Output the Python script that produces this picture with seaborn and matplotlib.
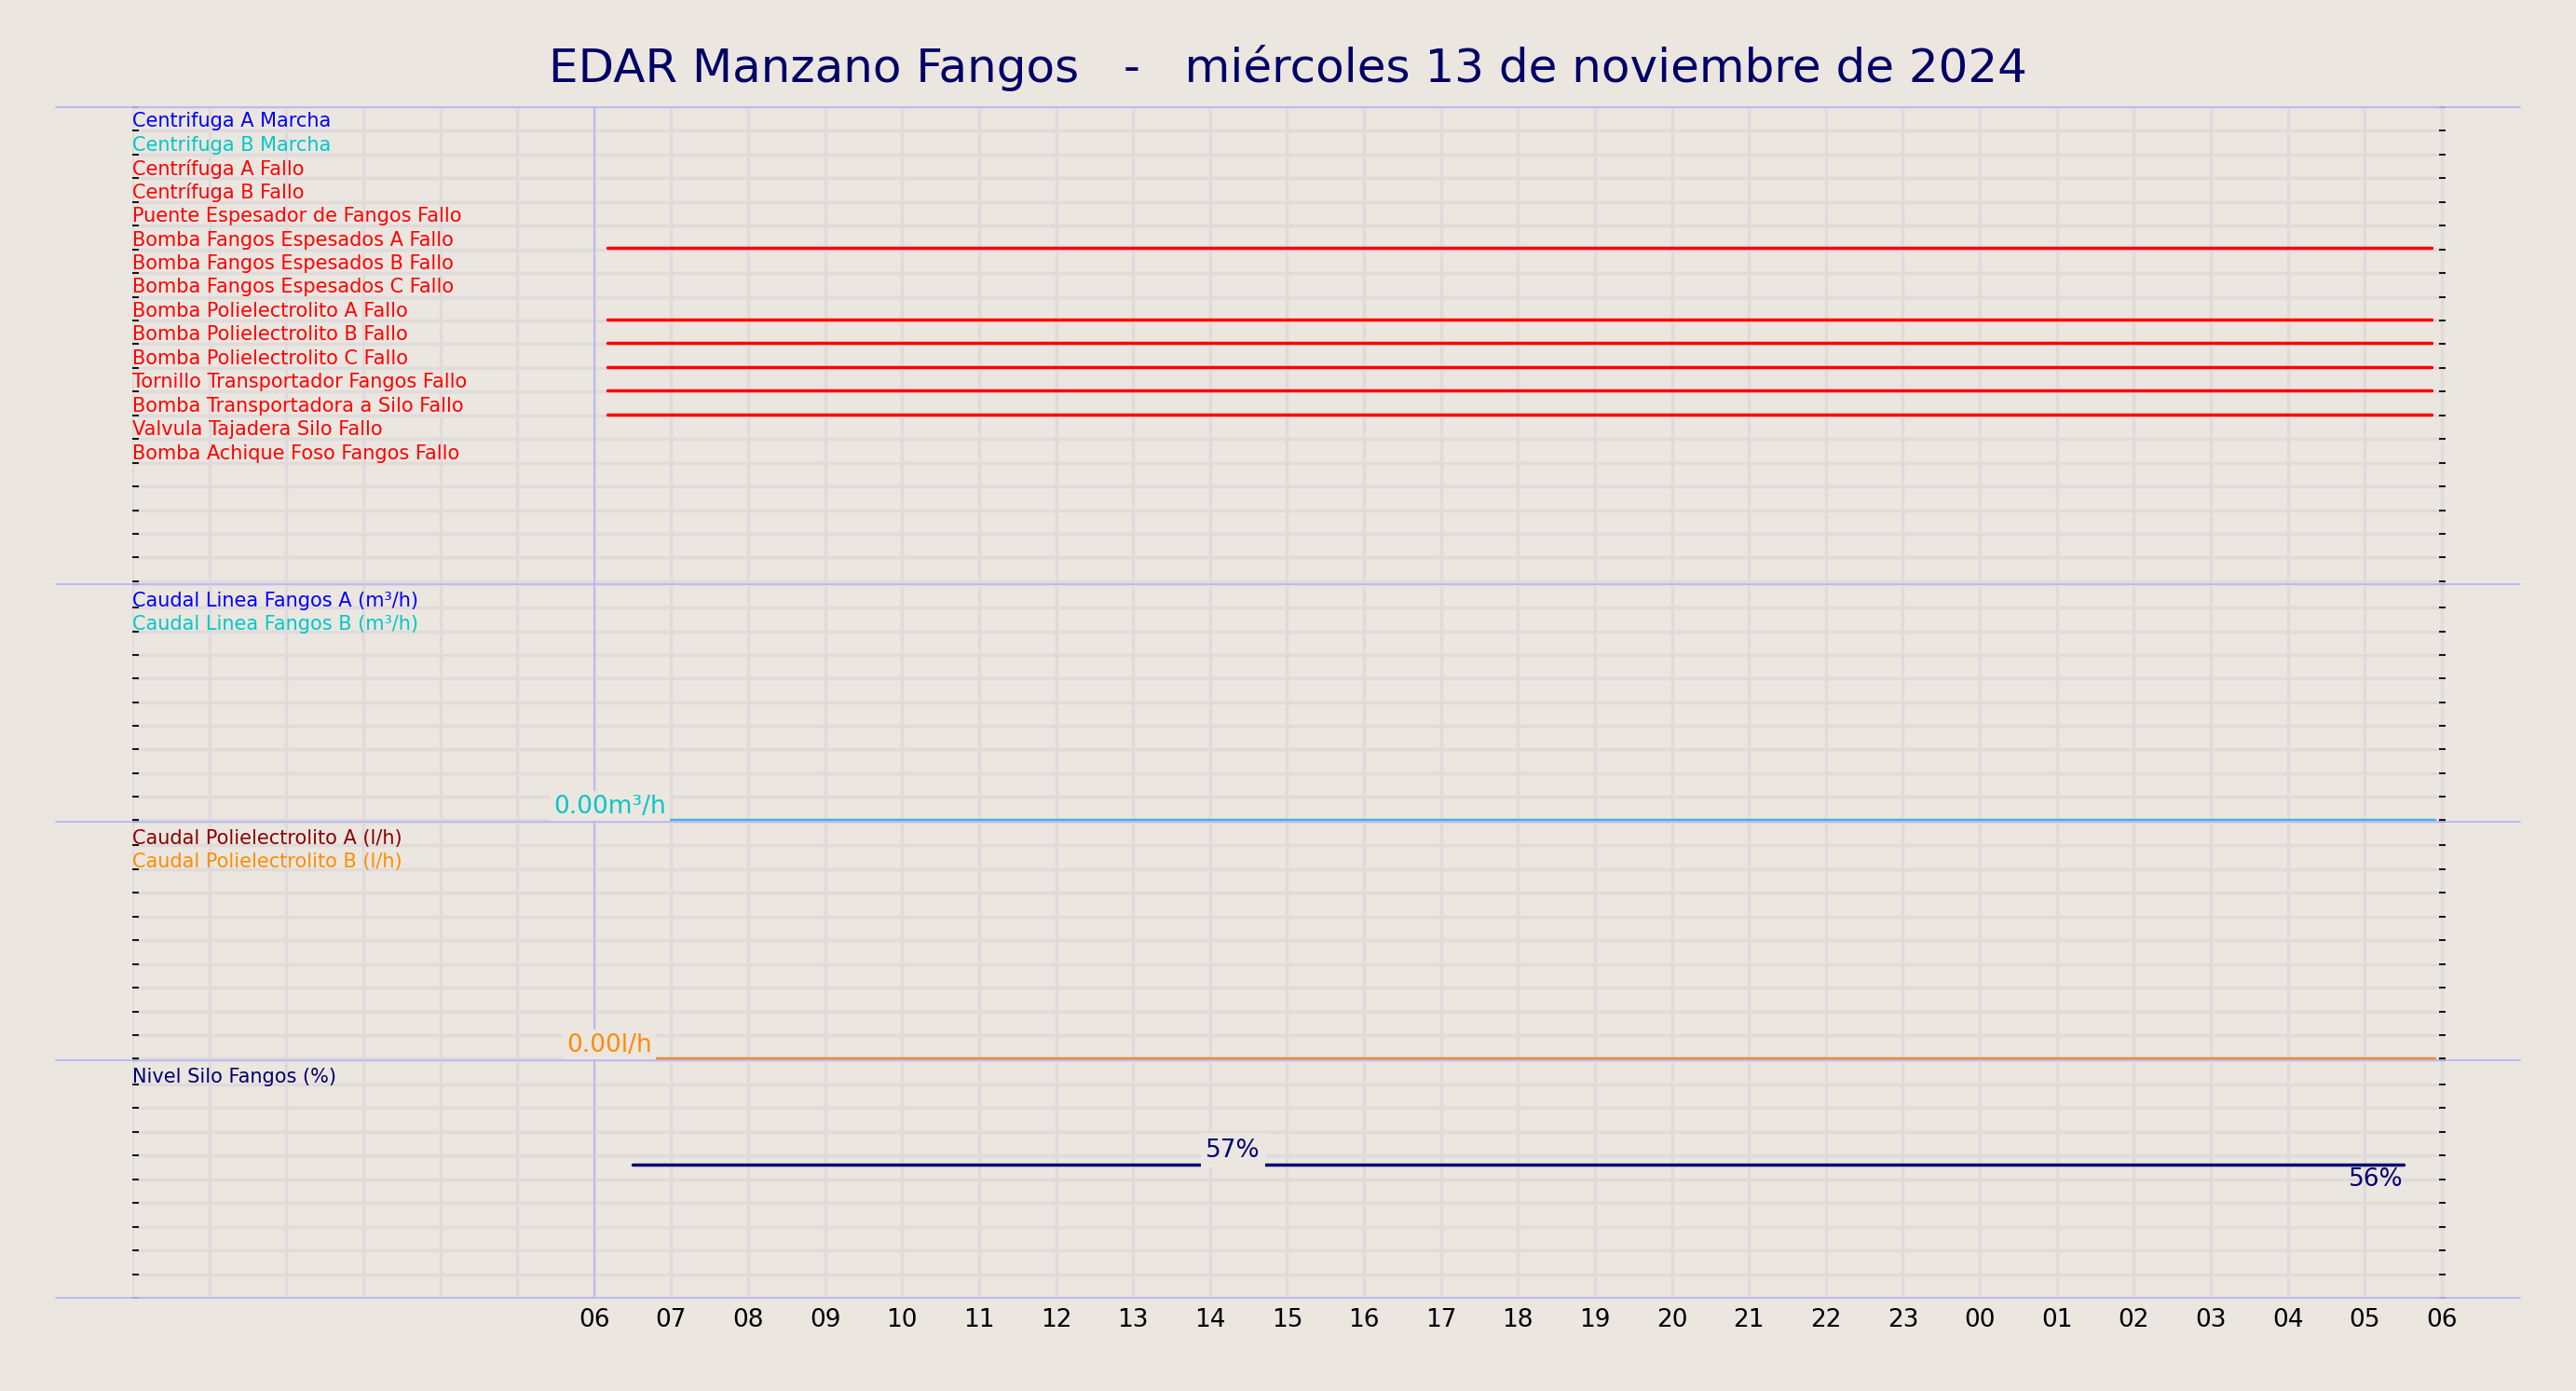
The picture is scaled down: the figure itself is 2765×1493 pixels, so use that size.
import matplotlib
matplotlib.use("Agg")
import matplotlib.pyplot as plt
from matplotlib.lines import Line2D
import seaborn as sns
import pandas as pd

sns.set_theme(style="whitegrid")
plt.rcParams['font.family'] = ['DejaVu Sans']

BG = "#ebe6e0"
GRID = "#e0dbda"
SEP = "#b8b8f4"

# time in hours since 00:00 of 13/11/2024
hour_ticks = list(range(6, 31))
hour_labels = [f"{h % 24:02d}" for h in hour_ticks]

# panel 1: digital signals (row index from top)
sig_names = ["Centrifuga A Marcha", "Centrifuga B Marcha", "Centrífuga A Fallo",
             "Centrífuga B Fallo", "Puente Espesador de Fangos Fallo",
             "Bomba Fangos Espesados A Fallo", "Bomba Fangos Espesados B Fallo",
             "Bomba Fangos Espesados C Fallo", "Bomba Polielectrolito A Fallo",
             "Bomba Polielectrolito B Fallo", "Bomba Polielectrolito C Fallo",
             "Tornillo Transportador Fangos Fallo", "Bomba Transportadora a Silo Fallo",
             "Valvula Tajadera Silo Fallo", "Bomba Achique Foso Fangos Fallo"]
sig_colors = ["blue", "#00c8c8"] + ["red"] * 13
sig_active = [5, 8, 9, 10, 11, 12]
sig_start, sig_end = 6.17, 29.87

# panel 2 / 3: flows
flow_start, flow_end = 6.0, 29.9
flow_a_vals = [0.0, 0.0]
poli_vals = [0.0, 0.0]

# panel 4: silo level
silo_t = [6.5, 14.3, 29.5]
silo_vals = [56, 56, 56]
silo_mid_label, silo_end_label = "57%", "56%"

fig = plt.figure(figsize=(27.65, 14.93), dpi=100, facecolor=BG)
left, width = 142 / 2765, 2483 / 2765
bounds_px = [(115, 627), (627, 882), (882, 1138), (1138, 1393)]
axes = []
for top, bot in bounds_px:
    ax = fig.add_axes([left, 1 - bot / 1493, width, (bot - top) / 1493], facecolor=BG)
    axes.append(ax)

LBL = 15
VAL = 19

for ax, n in zip(axes, [20, 10, 10, 10]):
    ax.set_xlim(0, 30.05)
    ax.set_xticks(range(0, 31))
    ax.set_xticklabels([])
    ax.set_ylim(-0.06 * n / 10, n)
    ax.set_yticks(range(0, n + 1))
    ax.set_yticklabels([])
    ax.grid(True, color=GRID, linewidth=2.5)
    for s in ax.spines.values():
        s.set_visible(False)
    ax.tick_params(axis="y", left=True, right=True, direction="in", length=5,
                   width=1.3, color="black")
    ax.tick_params(axis="x", bottom=False, length=0)
    ax.axvline(6, color=SEP, linewidth=1.3)

# panel 1
ax = axes[0]
rows = []
for i in sig_active:
    y = 20 - i - 0.95
    rows += [{"t": sig_start, "y": y, "s": sig_names[i]},
             {"t": sig_end, "y": y, "s": sig_names[i]}]
df = pd.DataFrame(rows)
sns.lineplot(data=df, x="t", y="y", hue="s", palette={sig_names[i]: "red" for i in sig_active},
             legend=False, linewidth=2.5, ax=ax)
for i, (name, c) in enumerate(zip(sig_names, sig_colors)):
    ax.text(0.0, 20 - i - 0.6, name, color=c, fontsize=LBL, va="center", ha="left")
ax.set_xlabel(""); ax.set_ylabel("")


def flow_panel(ax, labels, colors, vals, lcolor, tcolor, unit):
    d = pd.DataFrame({"t": [flow_start, flow_end], "v": vals})
    sns.lineplot(data=d, x="t", y="v", color=lcolor, linewidth=2.5, ax=ax)
    for i, (lab, c) in enumerate(zip(labels, colors)):
        ax.text(0.0, 10 - i - 0.7, lab, color=c, fontsize=LBL, va="center", ha="left")
    ax.text(flow_start + 0.2, vals[0] + 0.05, f"{vals[0]:.2f}{unit}", color=tcolor,
            fontsize=VAL, ha="center", va="bottom",
            bbox=dict(facecolor=BG, edgecolor="none", pad=3))
    ax.text(flow_end, vals[-1] - 0.1, f"{vals[-1]:.2f}{unit}", color=tcolor,
            fontsize=VAL, ha="right", va="top")
    ax.set_xlabel(""); ax.set_ylabel("")


flow_panel(axes[1], ["Caudal Linea Fangos A (m³/h)", "Caudal Linea Fangos B (m³/h)"],
           ["blue", "#00c8c8"], flow_a_vals, "#3fb8e0", "#00c8c8", "m³/h")
flow_panel(axes[2], ["Caudal Polielectrolito A (l/h)", "Caudal Polielectrolito B (l/h)"],
           ["#8b0000", "#ff8c00"], poli_vals, "#f08830", "#ff8c00", "l/h")

# panel 4
ax = axes[3]
ax.set_ylim(0, 100)
ax.set_yticks(range(0, 101, 10))
ax.set_yticklabels([])
d = pd.DataFrame({"t": silo_t, "v": silo_vals})
sns.lineplot(data=d, x="t", y="v", color="#000070", linewidth=2.5, ax=ax)
ax.text(0.0, 93, "Nivel Silo Fangos (%)", color="#000070", fontsize=LBL, va="center")
ax.text(silo_t[1], silo_vals[1] + 1, silo_mid_label, color="#000070", fontsize=VAL,
        ha="center", va="bottom", bbox=dict(facecolor=BG, edgecolor="none", pad=4))
ax.text(silo_t[-1], silo_vals[-1] - 1, silo_end_label, color="#000070", fontsize=VAL,
        ha="right", va="top")
ax.set_xlabel(""); ax.set_ylabel("")
ax.set_xticks(hour_ticks)
ax.set_xticklabels(hour_labels)
ax.set_xticks(range(0, 31), minor=True)
ax.grid(True, which="minor", axis="x", color=GRID, linewidth=2.5)
ax.tick_params(axis="x", labelsize=19, pad=8, labelcolor="black")

# separator lines
for top, _ in bounds_px:
    yy = 1 - top / 1493
    fig.add_artist(Line2D([60 / 2765, 2705 / 2765], [yy, yy], color=SEP, linewidth=1.3))
yy = 1 - 1393 / 1493
fig.add_artist(Line2D([60 / 2765, 2705 / 2765], [yy, yy], color=SEP, linewidth=1.3))

fig.suptitle("EDAR Manzano Fangos   -   miércoles 13 de noviembre de 2024",
             color="#000066", fontsize=36, y=0.968)

fig.savefig("out.png", dpi=100, facecolor=BG)
